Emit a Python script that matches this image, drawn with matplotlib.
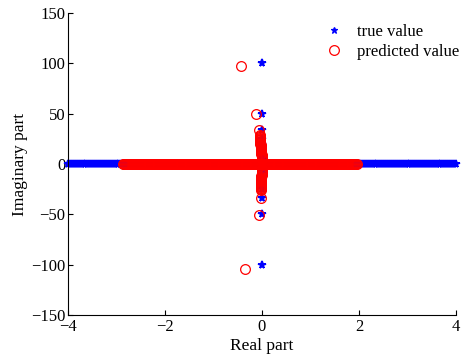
import matplotlib
matplotlib.use("Agg")
import matplotlib.pyplot as plt
import numpy as np

plt.rcParams['font.family'] = ['Liberation Serif', 'DejaVu Serif']

# True eigenvalues: dense real spectrum on [-4, 4]
true_real_band = [
    -4.00, -3.96, -3.92, -3.88, -3.84, -3.80, -3.76, -3.72, -3.68, -3.64,
    -3.60, -3.56, -3.52, -3.48, -3.44, -3.40, -3.36, -3.32, -3.28, -3.24,
    -3.20, -3.16, -3.12, -3.08, -3.04, -3.00, -2.96, -2.92, -2.88, -2.84,
    -2.80, -2.76, -2.72, -2.68, -2.64, -2.60, -2.56, -2.52, -2.48, -2.44,
    -2.40, -2.36, -2.32, -2.28, -2.24, -2.20, -2.16, -2.12, -2.08, -2.04,
    -2.00, -1.96, -1.92, -1.88, -1.84, -1.80, -1.76, -1.72, -1.68, -1.64,
    -1.60, -1.56, -1.52, -1.48, -1.44, -1.40, -1.36, -1.32, -1.28, -1.24,
    -1.20, -1.16, -1.12, -1.08, -1.04, -1.00, -0.96, -0.92, -0.88, -0.84,
    -0.80, -0.76, -0.72, -0.68, -0.64, -0.60, -0.56, -0.52, -0.48, -0.44,
    -0.40, -0.36, -0.32, -0.28, -0.24, -0.20, -0.16, -0.12, -0.08, -0.04,
    0.00, 0.04, 0.08, 0.12, 0.16, 0.20, 0.24, 0.28, 0.32, 0.36,
    0.40, 0.44, 0.48, 0.52, 0.56, 0.60, 0.64, 0.68, 0.72, 0.76,
    0.80, 0.84, 0.88, 0.92, 0.96, 1.00, 1.04, 1.08, 1.12, 1.16,
    1.20, 1.24, 1.28, 1.32, 1.36, 1.40, 1.44, 1.48, 1.52, 1.56,
    1.60, 1.64, 1.68, 1.72, 1.76, 1.80, 1.84, 1.88, 1.92, 1.96,
    2.00, 2.04, 2.08, 2.12, 2.16, 2.20, 2.24, 2.28, 2.32, 2.36,
    2.40, 2.44, 2.48, 2.52, 2.56, 2.60, 2.64, 2.68, 2.72, 2.76,
    2.80, 2.84, 2.88, 2.92, 2.96, 3.00, 3.04, 3.08, 3.12, 3.16,
    3.20, 3.24, 3.28, 3.32, 3.36, 3.40, 3.44, 3.48, 3.52, 3.56,
    3.60, 3.64, 3.68, 3.72, 3.76, 3.80, 3.84, 3.88, 3.92, 3.96,
    4.00,
]

# True eigenvalues on the imaginary axis (real part 0)
true_imag_axis = [
    100.0, 50.0, 33.3, 25.0, 20.0, 16.7, 14.3, 12.5, 11.1, 10.0,
    9.1, 8.3, 7.7, 7.1, 6.7, 6.3, 5.9, 5.6, 5.3, 5.0,
    -5.0, -5.3, -5.6, -5.9, -6.3, -6.7, -7.1, -7.7, -8.3, -9.1,
    -10.0, -11.1, -12.5, -14.3, -16.7, -20.0, -25.0, -33.3, -50.0, -100.0,
]

# Predicted eigenvalues: real band
pred_real_band = [
    -2.86, -2.84, -2.82, -2.80, -2.78, -2.76, -2.74, -2.72, -2.70, -2.68,
    -2.66, -2.64, -2.62, -2.60, -2.58, -2.56, -2.54, -2.52, -2.50, -2.48,
    -2.46, -2.44, -2.42, -2.40, -2.38, -2.36, -2.34, -2.32, -2.30, -2.28,
    -2.26, -2.24, -2.22, -2.20, -2.18, -2.16, -2.14, -2.12, -2.10, -2.08,
    -2.06, -2.04, -2.02, -2.00, -1.98, -1.96, -1.94, -1.92, -1.90, -1.88,
    -1.86, -1.84, -1.82, -1.80, -1.78, -1.76, -1.74, -1.72, -1.70, -1.68,
    -1.66, -1.64, -1.62, -1.60, -1.58, -1.56, -1.54, -1.52, -1.50, -1.48,
    -1.46, -1.44, -1.42, -1.40, -1.38, -1.36, -1.34, -1.32, -1.30, -1.28,
    -1.26, -1.24, -1.22, -1.20, -1.18, -1.16, -1.14, -1.12, -1.10, -1.08,
    -1.06, -1.04, -1.02, -1.00, -0.98, -0.96, -0.94, -0.92, -0.90, -0.88,
    -0.86, -0.84, -0.82, -0.80, -0.78, -0.76, -0.74, -0.72, -0.70, -0.68,
    -0.66, -0.64, -0.62, -0.60, -0.58, -0.56, -0.54, -0.52, -0.50, -0.48,
    -0.46, -0.44, -0.42, -0.40, -0.38, -0.36, -0.34, -0.32, -0.30, -0.28,
    -0.26, -0.24, -0.22, -0.20, -0.18, -0.16, -0.14, -0.12, -0.10, -0.08,
    -0.06, -0.04, -0.02, 0.00, 0.02, 0.04, 0.06, 0.08, 0.10, 0.12,
    0.14, 0.16, 0.18, 0.20, 0.22, 0.24, 0.26, 0.28, 0.30, 0.32,
    0.34, 0.36, 0.38, 0.40, 0.42, 0.44, 0.46, 0.48, 0.50, 0.52,
    0.54, 0.56, 0.58, 0.60, 0.62, 0.64, 0.66, 0.68, 0.70, 0.72,
    0.74, 0.76, 0.78, 0.80, 0.82, 0.84, 0.86, 0.88, 0.90, 0.92,
    0.94, 0.96, 0.98, 1.00, 1.02, 1.04, 1.06, 1.08, 1.10, 1.12,
    1.14, 1.16, 1.18, 1.20, 1.22, 1.24, 1.26, 1.28, 1.30, 1.32,
    1.34, 1.36, 1.38, 1.40, 1.42, 1.44, 1.46, 1.48, 1.50, 1.52,
    1.54, 1.56, 1.58, 1.60, 1.62, 1.64, 1.66, 1.68, 1.70, 1.72,
    1.74, 1.76, 1.78, 1.80, 1.82, 1.84, 1.86, 1.88, 1.90, 1.92,
    1.94, 1.96,
]

# Predicted eigenvalues near the imaginary axis (real, imaginary)
pred_branch_real = [
    -0.44, -0.12, -0.06, -0.050, -0.048, -0.046, -0.044, -0.042, -0.040, -0.038,
    -0.036, -0.034, -0.032, -0.030, -0.028, -0.026, -0.024, -0.022, -0.020, -0.018,
    -0.016, -0.014, -0.012, -0.010, -0.008, -0.006, -0.004, -0.002,
    -0.004, -0.005, -0.006, -0.007, -0.008, -0.009, -0.010, -0.011, -0.012, -0.013,
    -0.014, -0.015, -0.016, -0.017, -0.018, -0.019, -0.020, -0.021, -0.022, -0.023,
    -0.024, -0.025, -0.03, -0.07, -0.36,
]
pred_branch_imag = [
    97.5, 50.0, 34.0, 29.0, 28.0, 27.0, 26.0, 25.0, 24.0, 23.0,
    22.0, 21.0, 20.0, 19.0, 18.0, 17.0, 16.0, 15.0, 14.0, 13.0,
    12.0, 11.0, 10.0, 9.0, 8.0, 7.0, 6.0, 5.0,
    -5.0, -6.0, -7.0, -8.0, -9.0, -10.0, -11.0, -12.0, -13.0, -14.0,
    -15.0, -16.0, -17.0, -18.0, -19.0, -20.0, -21.0, -22.0, -23.0, -24.0,
    -25.0, -26.0, -34.0, -51.0, -104.0,
]

W, H = 463, 356
fig = plt.figure(figsize=(W / 100, H / 100), dpi=100)
ax = fig.add_axes([68 / W, 1 - 315 / H, 388 / W, 302 / H])

true_re = np.concatenate([true_real_band, np.zeros(len(true_imag_axis))])
true_im = np.concatenate([np.zeros(len(true_real_band)), true_imag_axis])
pred_re = np.concatenate([pred_real_band, pred_branch_real])
pred_im = np.concatenate([np.zeros(len(pred_real_band)), pred_branch_imag])

ax.plot(true_re, true_im, linestyle='none', marker='*', color='#0000ff',
        markersize=5.5, markeredgewidth=1.3, label='true value', clip_on=False)
ax.plot(pred_re, pred_im, linestyle='none', marker='o', markerfacecolor='none',
        markeredgecolor='#ff0000', markersize=7, markeredgewidth=0.9,
        label='predicted value')

ax.set_xlim(-4, 4)
ax.set_ylim(-150, 150)
ax.set_xticks([-4, -2, 0, 2, 4])
ax.set_yticks([-150, -100, -50, 0, 50, 100, 150])
ax.spines['top'].set_visible(False)
ax.spines['right'].set_visible(False)
for s in ('left', 'bottom'):
    ax.spines[s].set_linewidth(0.8)
ax.tick_params(direction='in', length=3.5, width=0.8, labelsize=12, pad=2)
ax.tick_params(axis='x', pad=3)

ax.set_xlabel('Real part', fontsize=12.5, labelpad=2)
ax.set_ylabel('Imaginary part', fontsize=12.5, labelpad=2)

leg = ax.legend(loc='upper right', bbox_to_anchor=(1.024, 0.975),
                bbox_transform=fig.transFigure, frameon=False, fontsize=12,
                handlelength=1.2, handletextpad=0.8, labelspacing=0.25,
                borderaxespad=0.5)
leg.legend_handles[0].set_markersize(4.5)
leg.legend_handles[0].set_markeredgewidth(0.9)

fig.savefig('out.png', dpi=100)
